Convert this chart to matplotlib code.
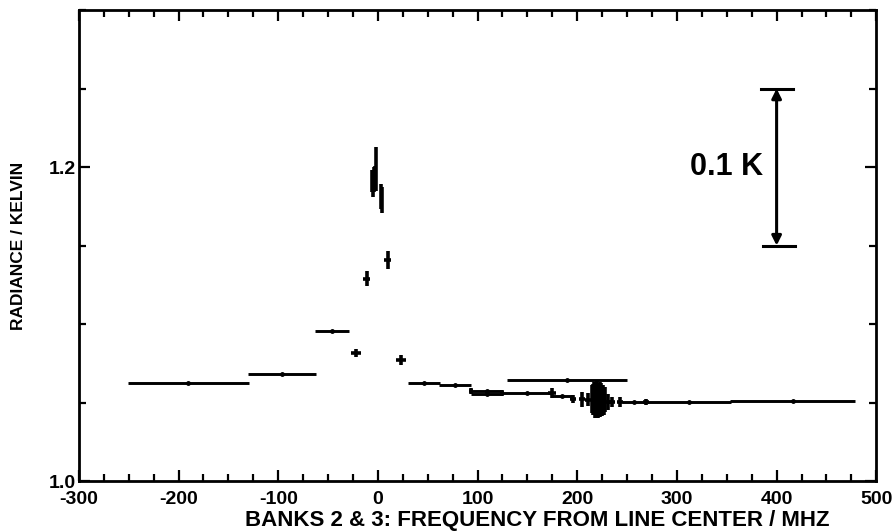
import matplotlib.pyplot as plt
from matplotlib.ticker import MultipleLocator

plt.rcParams["font.family"] = ["Liberation Sans", "DejaVu Sans"]
plt.rcParams["font.weight"] = "bold"
plt.rcParams["axes.unicode_minus"] = False

# wide channels (filter banks): center, radiance, half width
wide_f = [-190, -96, -46, 46, 77, 109, 109, 150, 190, 185, 257, 312, 416]
wide_t = [1.0624, 1.068, 1.0955, 1.0624, 1.061, 1.0573, 1.0554, 1.056, 1.0643, 1.054, 1.0506, 1.0503, 1.0510]
wide_df = [61, 34, 17.5, 16, 16, 16, 16, 25, 60, 10, 12, 42, 63]

# narrow channels: center, radiance, half width, radiance error
narrow_f = [-22, -11, -6, -5, -4, -3, -2, 3, 4, 10, 23, 93, 125, 175,
            196, 205, 211, 215, 216, 217, 218, 219, 220, 221, 222, 223, 224, 225, 226, 227, 228,
            231, 235, 243, 269]
narrow_t = [1.0815, 1.129, 1.191, 1.189, 1.192, 1.194, 1.199, 1.181, 1.179, 1.1408, 1.077, 1.0573, 1.0560, 1.0562,
            1.0522, 1.0520, 1.0518, 1.0525, 1.0520, 1.0530, 1.0515, 1.0528, 1.0520, 1.0510, 1.0525, 1.0518, 1.0522, 1.0515, 1.0520, 1.0512, 1.0518,
            1.0505, 1.0505, 1.0503, 1.0503]
narrow_df = [5, 3.5, 0.5, 0.5, 0.5, 0.5, 0.5, 0.5, 0.5, 3.5, 5, 2, 2, 4,
             3, 3, 3, 0.5, 0.5, 0.5, 0.5, 0.5, 0.5, 0.5, 0.5, 0.5, 0.5, 0.5, 0.5, 0.5, 0.5,
             3, 3, 3, 3]
narrow_dt = [0.0025, 0.005, 0.007, 0.008, 0.008, 0.007, 0.014, 0.008, 0.008, 0.006, 0.003, 0.002, 0.002, 0.003,
             0.0027, 0.005, 0.004, 0.009, 0.010, 0.010, 0.011, 0.010, 0.012, 0.011, 0.010, 0.011, 0.010, 0.010, 0.009, 0.009, 0.008,
             0.005, 0.003, 0.003, 0.002]

fig = plt.figure(figsize=(8.96, 5.31), dpi=100)
ax = fig.add_axes([0.088, 0.094, 0.89, 0.887])

ax.errorbar(wide_f, wide_t, xerr=wide_df, fmt="o", ms=2.5, color="black",
            ecolor="black", elinewidth=2.1, capsize=0)
ax.errorbar(narrow_f, narrow_t, xerr=narrow_df, yerr=narrow_dt, fmt="none",
            ecolor="black", elinewidth=2.6, capsize=0)

# 0.1 K scale bar
ax.annotate("", xy=(400, 1.25), xytext=(400, 1.15),
            arrowprops=dict(arrowstyle="<|-|>", color="black", lw=2.2,
                            mutation_scale=14, shrinkA=0, shrinkB=0))
ax.plot([384, 416], [1.25, 1.25], color="black", lw=2.2)
ax.plot([386, 418], [1.15, 1.15], color="black", lw=2.2)
ax.text(386, 1.2, "0.1 K", ha="right", va="center", fontsize=22, fontweight="bold")

ax.set_xlim(-300, 500)
ax.set_ylim(1.0, 1.3)
ax.xaxis.set_major_locator(MultipleLocator(100))
ax.xaxis.set_minor_locator(MultipleLocator(25))
ax.set_yticks([1.0, 1.2])
ax.set_yticklabels(["1.0", "1.2"])
ax.yaxis.set_minor_locator(MultipleLocator(0.05))
ax.tick_params(which="both", direction="in", top=True, right=True, width=1.6,
               labelsize=14)
ax.tick_params(axis="x", pad=7)
ax.tick_params(axis="y", pad=2)
ax.tick_params(which="major", length=8)
ax.tick_params(which="minor", length=5)
for s in ax.spines.values():
    s.set_linewidth(2)

ax.set_xlabel("BANKS 2 & 3: FREQUENCY FROM LINE CENTER / MHZ", fontsize=16,
              fontweight="bold")
ax.xaxis.set_label_coords(0.575, -0.062)
ax.set_ylabel("RADIANCE / KELVIN", fontsize=12.5, fontweight="bold")
ax.yaxis.set_label_coords(-0.066, 0.5)

fig.savefig("out.png", dpi=100)
